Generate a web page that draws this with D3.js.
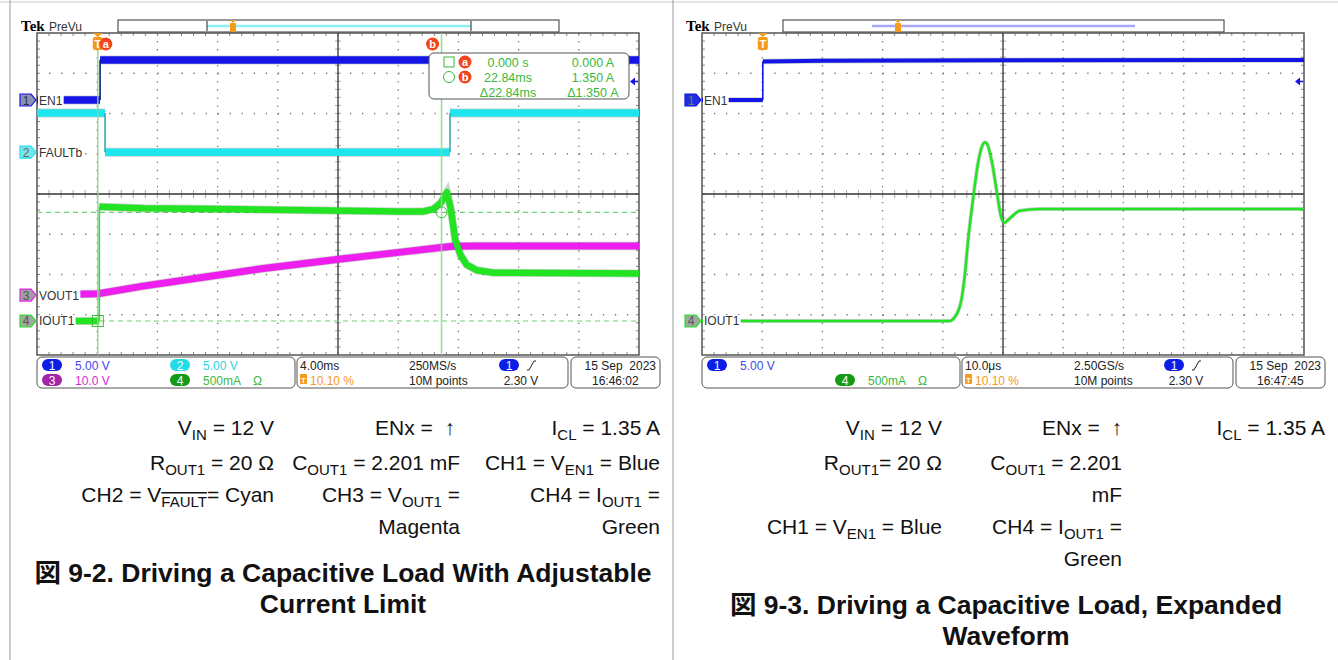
<!DOCTYPE html>
<html>
<head>
<meta charset="utf-8">
<script src="https://cdn.jsdelivr.net/npm/d3@7"></script>
<style>
  body { margin: 0; background: #fff; }
  svg text { font-family: "Liberation Sans", Arial, "Noto Sans CJK JP", sans-serif; }
  .ui { font-size: 12px; }
  .cap { font-size: 21px; fill: #111; }
  .title { font-size: 26.5px; font-weight: bold; fill: #111; }
</style>
</head>
<body>
<svg id="chart" width="1338" height="660"></svg>
<script>
// ---- channel setup (units per division, marker offset in divisions) ----
const CH_PER_DIV = [5, 5, 10, 0.5];
const CH_OFFSET  = [2.335, 1.04, -2.51, -3.155];
const CH_COLOR   = ["#1414e6", "#1ee4ee", "#ee1eee", "#22e422"];
const CH_LABEL   = ["EN1", "FAULTb", "VOUT1", "IOUT1"];

// ---- left capture: 4 ms/div, trigger at 10.1 % (times in ms) ----
const EN1_LEFT   = [[-4.04, 0], [0.15, 0], [0.15, 4.97], [35.96, 4.97]];
const FAULT_LEFT = [[-4.04, 4.85], [0.48, 4.85], [0.48, 0], [23.4, 0], [23.4, 4.85], [35.96, 4.85]];
const VOUT_LEFT  = [[-4.04, 0], [0, 0.3], [3, 2.2], [6.8, 4.3], [11, 6.6], [16, 8.9], [20, 10.6],
                    [22.8, 11.8], [23.6, 12.1], [25, 12.2], [35.96, 12.2]];
const IOUT_LEFT  = [[-4.04, 0], [0.1, 0], [0.1, 1.42], [3, 1.40], [8, 1.39], [14, 1.375], [20, 1.36],
                    [21.6, 1.36], [22.3, 1.39], [22.8, 1.47], [23.2, 1.60], [23.45, 1.40], [23.75, 1.01],
                    [24.1, 0.82], [24.5, 0.70], [25.2, 0.63], [26.3, 0.60], [35.96, 0.59]];
const CURSOR_T = [0, 22.84];
const CURSOR_I = [0, 1.35];

// ---- right capture: 10 us/div, trigger at 10.1 % (times in us) ----
const EN1_RIGHT  = [[-10.1, 0], [0, 0], [0, 4.8], [10, 4.88], [40, 4.93], [89.9, 4.97]];
const IOUT_RIGHT = [[-10.1, 0], [31.1, 0], [31.4, 0.01], [32.8, 0.2], [33.6, 0.6], [34.1, 1.0], [34.9, 1.5],
                    [35.75, 1.96], [36.6, 2.2], [36.9, 2.22], [37.25, 2.2], [38.1, 1.96], [38.9, 1.59],
                    [39.6, 1.29], [40.1, 1.22], [41.1, 1.28], [42.7, 1.37], [46, 1.39], [89.9, 1.39]];

// ---- status bar / readout text ----
const READOUT_ROWS = [["0.000 s", "0.000 A"], ["22.84ms", "1.350 A"], ["\u039422.84ms", "\u03941.350 A"]];
const STATUS_LEFT  = {time: "4.00ms", rate: "250MS/s", date: "15 Sep  2023", clock: "16:46:02",
                      chans: [[1, "5.00 V"], [2, "5.00 V"], [3, "10.0 V"], [4, "500mA"]]};
const STATUS_RIGHT = {time: "10.0\u03bcs", rate: "2.50GS/s", date: "15 Sep  2023", clock: "16:47:45",
                      chans: [[1, "5.00 V"], [4, "500mA"]]};

const PILL_COLOR = ["#0c1ee6", "#22dce6", "#a424a8", "#159a15"];
const TEXT_COLOR = ["#4646f0", "#2ad4de", "#d42cd4", "#3cb83c"];
const ORANGE = "#f49a1c";

const svg = d3.select("#chart");

// frame of the document table
svg.append("line").attr("x1", 0).attr("x2", 1338).attr("y1", 2).attr("y2", 2).attr("stroke", "#ccc");
[10, 673].forEach(x => svg.append("line").attr("x1", x).attr("x2", x).attr("y1", 0).attr("y2", 660)
  .attr("stroke", "#999").attr("stroke-width", 1));

/*
  Splits a trace at its vertical edges: flat runs are drawn thick, edges thin.
*/
const splitRuns = (data) => {
  const runs = [], edges = [];
  let cur = [data[0]];
  for (let i = 1; i < data.length; i++) {
    if (data[i][0] === data[i - 1][0]) {
      runs.push(cur);
      edges.push([data[i - 1], data[i]]);
      cur = [data[i]];
    } else {
      cur.push(data[i]);
    }
  }
  runs.push(cur);
  return {runs, edges};
};

/*
  Draws one oscilloscope screen shifted by ox pixels.
*/
const drawScope = (cfg) => {
  const ox = cfg.ox;
  const gx0 = 37 + ox, gx1 = 639 + ox, gy0 = 33, gy1 = 355;
  const g = svg.append("g");
  const xDiv = d3.scaleLinear().domain([0, 10]).range([gx0, gx1]);
  const yDiv = d3.scaleLinear().domain([-4, 4]).range([gy1, gy0]);
  const x = d3.scaleLinear().domain([cfg.t0, cfg.t0 + 10 * cfg.perDiv]).range([gx0, gx1]);
  const chY = c => d3.scaleLinear()
    .domain([(-4 - CH_OFFSET[c]) * CH_PER_DIV[c], (4 - CH_OFFSET[c]) * CH_PER_DIV[c]])
    .range([gy1, gy0]);

  // top bar
  g.append("text").attr("x", 21 + ox).attr("y", 31).text("Tek")
   .style("font-family", "'Liberation Serif', serif").style("font-weight", "bold").style("font-size", "15px");
  g.append("text").attr("x", 49 + ox).attr("y", 31).attr("class", "ui").attr("fill", "#333").text("PreVu");
  g.append("rect").attr("x", 118 + ox).attr("y", 20).attr("width", 441).attr("height", 12)
   .attr("fill", "#fff").attr("stroke", "#333");
  g.append("line").attr("x1", cfg.rec[0] + ox).attr("x2", cfg.rec[1] + ox).attr("y1", 26).attr("y2", 26)
   .attr("stroke", cfg.recColor).attr("stroke-width", 2.5);
  if (cfg.brackets) {
    [cfg.rec[0], cfg.rec[1]].forEach(bx => g.append("line").attr("x1", bx + ox).attr("x2", bx + ox)
      .attr("y1", 21).attr("y2", 31).attr("stroke", "#222").attr("stroke-width", 1));
  }
  const tm = cfg.recT + ox;
  g.append("path").attr("d", `M${tm - 3},20 L${tm + 3},20 L${tm},23 Z`).attr("fill", ORANGE);
  g.append("rect").attr("x", tm - 3).attr("y", 23).attr("width", 6).attr("height", 9).attr("rx", 1).attr("fill", ORANGE);

  // graticule
  const grid = g.append("g");
  for (let i = 1; i < 10; i++) {
    if (i === 5) continue;
    grid.append("line").attr("x1", xDiv(i)).attr("x2", xDiv(i)).attr("y1", gy0).attr("y2", gy1)
        .attr("stroke", "#777").attr("stroke-width", 1.3).attr("stroke-dasharray", "1.3,6.75");
  }
  for (let j = -3; j <= 3; j++) {
    if (j === 0) continue;
    grid.append("line").attr("x1", gx0).attr("x2", gx1).attr("y1", yDiv(j)).attr("y2", yDiv(j))
        .attr("stroke", "#777").attr("stroke-width", 1.3).attr("stroke-dasharray", "1.3,10.74");
  }
  for (let k = 1; k < 50; k++) {
    const xx = xDiv(k / 5);
    grid.append("line").attr("x1", xx).attr("x2", xx).attr("y1", yDiv(0) - 4).attr("y2", yDiv(0) + 4).attr("stroke", "#aaa");
    grid.append("line").attr("x1", xx).attr("x2", xx).attr("y1", gy0).attr("y2", gy0 + 3).attr("stroke", "#888");
    grid.append("line").attr("x1", xx).attr("x2", xx).attr("y1", gy1 - 3).attr("y2", gy1).attr("stroke", "#888");
  }
  for (let k = 1; k < 40; k++) {
    const yy = yDiv(-4 + k / 5);
    grid.append("line").attr("x1", xDiv(5) - 3).attr("x2", xDiv(5) + 3).attr("y1", yy).attr("y2", yy).attr("stroke", "#aaa");
    grid.append("line").attr("x1", gx0).attr("x2", gx0 + 3).attr("y1", yy).attr("y2", yy).attr("stroke", "#888");
    grid.append("line").attr("x1", gx1 - 3).attr("x2", gx1).attr("y1", yy).attr("y2", yy).attr("stroke", "#888");
  }
  grid.append("line").attr("x1", gx0).attr("x2", gx1).attr("y1", yDiv(0)).attr("y2", yDiv(0)).attr("stroke", "#333").attr("stroke-width", 1.3);
  grid.append("line").attr("x1", xDiv(5)).attr("x2", xDiv(5)).attr("y1", gy0).attr("y2", gy1).attr("stroke", "#333").attr("stroke-width", 1.3);
  grid.append("rect").attr("x", gx0).attr("y", gy0).attr("width", gx1 - gx0).attr("height", gy1 - gy0)
      .attr("fill", "none").attr("stroke", "#555").attr("stroke-width", 1.5);

  const clipId = "clip" + ox;
  g.append("clipPath").attr("id", clipId).append("rect")
   .attr("x", gx0).attr("y", gy0).attr("width", gx1 - gx0).attr("height", gy1 - gy0);
  const plot = g.append("g").attr("clip-path", `url(#${clipId})`);

  // cursors (behind traces)
  if (cfg.cursors) {
    CURSOR_I.forEach(v => plot.append("line").attr("x1", gx0).attr("x2", gx1).attr("y1", chY(3)(v)).attr("y2", chY(3)(v))
      .attr("stroke", "#6ed06e").attr("stroke-width", 1.2).attr("stroke-dasharray", "5,4"));
  }

  // traces
  cfg.traces.forEach(tr => {
    const y = chY(tr.ch);
    const line = d3.line().x(d => x(d[0])).y(d => y(d[1])).curve(tr.curve || d3.curveLinear);
    const parts = splitRuns(tr.data);
    parts.runs.forEach(run => {
      plot.append("path").datum(run).attr("d", line).attr("fill", "none")
          .attr("stroke", "#1a3a1a").attr("stroke-opacity", 0.22).attr("stroke-width", tr.w + 1.5);
      plot.append("path").datum(run).attr("d", line).attr("fill", "none")
          .attr("stroke", CH_COLOR[tr.ch]).attr("stroke-width", tr.w).attr("stroke-linejoin", "round");
    });
    parts.edges.forEach(e => plot.append("path").datum(e).attr("d", line).attr("fill", "none")
          .attr("stroke", tr.edge || CH_COLOR[tr.ch]).attr("stroke-width", 1.6));
  });

  if (cfg.cursors) {
    CURSOR_T.forEach(t => plot.append("line").attr("x1", x(t)).attr("x2", x(t)).attr("y1", gy0).attr("y2", gy1)
      .attr("stroke", "#8cd88c").attr("stroke-width", 1.6).attr("stroke-opacity", 0.85));
    plot.append("rect").attr("x", x(CURSOR_T[0]) - 5.5).attr("y", chY(3)(CURSOR_I[0]) - 5.5)
        .attr("width", 11).attr("height", 11).attr("fill", "none").attr("stroke", "#3cb83c");
    plot.append("circle").attr("cx", x(CURSOR_T[1])).attr("cy", chY(3)(CURSOR_I[1])).attr("r", 5.5)
        .attr("fill", "none").attr("stroke", "#3cb83c");
  }

  // channel labels on the left edge
  cfg.markers.forEach(m => {
    const yy = yDiv(CH_OFFSET[m.ch]);
    const txt = g.append("text").attr("x", gx0 + 2).attr("y", yy + 4.5).attr("class", "ui")
                 .attr("fill", "#333").text(CH_LABEL[m.ch]);
    const bb = txt.node().getBBox();
    g.insert("rect", () => txt.node()).attr("x", gx0 + 1).attr("y", yy - 6).attr("width", bb.width + 2)
     .attr("height", 12).attr("fill", "#fff");
    g.append("path").attr("d", `M${20 + ox},${yy - 6} H${31 + ox} L${36 + ox},${yy} L${31 + ox},${yy + 6} H${20 + ox} Z`)
     .attr("fill", m.fill).attr("stroke", CH_COLOR[m.ch]).attr("stroke-width", 1.2);
    g.append("text").attr("x", 26 + ox).attr("y", yy + 4.5).attr("text-anchor", "middle").attr("class", "ui")
     .attr("fill", m.num).text(m.ch + 1);
  });

  // trigger marker on top of graticule
  const tx = x(0);
  g.append("path").attr("d", `M${tx - 5},33 L${tx + 5},33 L${tx},37 Z`).attr("fill", ORANGE);
  g.append("rect").attr("x", tx - 5).attr("y", 37).attr("width", 10).attr("height", 13).attr("rx", 2).attr("fill", ORANGE);
  g.append("text").attr("x", tx).attr("y", 48).attr("text-anchor", "middle").attr("fill", "#fff")
   .style("font-size", "11px").style("font-weight", "bold").text("T");

  // trigger level arrow on the right edge
  const ly = chY(0)(2.3);
  g.append("path").attr("d", `M${gx1 - 9},${ly} L${gx1 - 4},${ly - 4} L${gx1 - 4},${ly + 4} Z`).attr("fill", CH_COLOR[0]);
  g.append("line").attr("x1", gx1 - 5).attr("x2", gx1 - 1).attr("y1", ly).attr("y2", ly).attr("stroke", CH_COLOR[0]).attr("stroke-width", 1.5);

  // cursor badges and readout
  if (cfg.cursors) {
    const badge = (bx, by, t) => {
      g.append("circle").attr("cx", bx).attr("cy", by).attr("r", 6.5).attr("fill", "#f2461a");
      g.append("text").attr("x", bx).attr("y", by + 4).attr("text-anchor", "middle").attr("fill", "#fff")
       .style("font-size", "11px").style("font-weight", "bold").text(t);
    };
    badge(x(CURSOR_T[0]) + 8, 44, "a");
    badge(x(CURSOR_T[1]) - 9, 44, "b");
    g.append("rect").attr("x", 429 + ox).attr("y", 53).attr("width", 200).attr("height", 46).attr("rx", 5)
     .attr("fill", "#fff").attr("stroke", "#555");
    g.append("rect").attr("x", 444 + ox).attr("y", 57).attr("width", 10).attr("height", 10).attr("fill", "none").attr("stroke", "#3cb83c");
    g.append("circle").attr("cx", 449 + ox).attr("cy", 77).attr("r", 5.5).attr("fill", "none").attr("stroke", "#3cb83c");
    badge(465 + ox, 62, "a");
    badge(465 + ox, 77, "b");
    READOUT_ROWS.forEach((row, i) => {
      row.forEach((s, j) => g.append("text").attr("x", [508, 593][j] + ox).attr("y", 66.5 + 15 * i)
        .attr("text-anchor", "middle").attr("fill", "#3cb83c").style("font-size", "12.5px").text(s));
    });
  }

  // status bar
  const st = cfg.status;
  [[37, 258], [297, 271], [571, 89]].forEach(b => g.append("rect").attr("x", b[0] + ox).attr("y", 357)
    .attr("width", b[1]).attr("height", 31).attr("rx", 5).attr("fill", "#fff").attr("stroke", "#555"));
  const pill = (cx, cy, n) => {
    g.append("rect").attr("x", cx - 10).attr("y", cy - 6).attr("width", 20).attr("height", 12).attr("rx", 6)
     .attr("fill", PILL_COLOR[n - 1]);
    g.append("text").attr("x", cx).attr("y", cy + 4.5).attr("text-anchor", "middle").attr("fill", "#fff")
     .attr("class", "ui").text(n);
  };
  st.chans.forEach(c => {
    const n = c[0];
    const col = (n === 1 || n === 3) ? 52 : 180;
    const row = (n === 1 || n === 2) ? 365 : 380;
    pill(col + ox, row, n);
    g.append("text").attr("x", col + 23 + ox).attr("y", row + 4.5).attr("class", "ui").attr("fill", TEXT_COLOR[n - 1]).text(c[1]);
    if (n === 4) g.append("text").attr("x", 253 + ox).attr("y", row + 4.5).attr("class", "ui").attr("fill", TEXT_COLOR[3]).text("\u03a9");
  });
  g.append("text").attr("x", 300 + ox).attr("y", 369.5).attr("class", "ui").attr("fill", "#222").text(st.time);
  g.append("rect").attr("x", 300 + ox).attr("y", 374).attr("width", 7).attr("height", 10).attr("rx", 1).attr("fill", ORANGE);
  g.append("text").attr("x", 303.5 + ox).attr("y", 382.5).attr("text-anchor", "middle").attr("fill", "#fff")
   .style("font-size", "8px").style("font-weight", "bold").text("T");
  g.append("text").attr("x", 310 + ox).attr("y", 384.5).attr("class", "ui").attr("fill", ORANGE).text("10.10 %");
  g.append("text").attr("x", 409 + ox).attr("y", 369.5).attr("class", "ui").attr("fill", "#222").text(st.rate);
  g.append("text").attr("x", 409 + ox).attr("y", 384.5).attr("class", "ui").attr("fill", "#222").text("10M points");
  pill(509 + ox, 365, 1);
  g.append("path").attr("d", `M${527 + ox},370 H${529 + ox} L${534 + ox},361 H${536 + ox}`)
   .attr("fill", "none").attr("stroke", "#222").attr("stroke-width", 1);
  g.append("text").attr("x", 521 + ox).attr("y", 384.5).attr("text-anchor", "middle").attr("class", "ui").attr("fill", "#222").text("2.30 V");
  g.append("text").attr("x", 656 + ox).attr("y", 369.5).attr("text-anchor", "end").attr("class", "ui").attr("fill", "#222")
   .style("white-space", "pre").text(st.date);
  g.append("text").attr("x", 592 + ox).attr("y", 384.5).attr("class", "ui").attr("fill", "#222").text(st.clock);
};

drawScope({
  ox: 0, t0: -4.04, perDiv: 4, rec: [207, 471], recColor: "#8ef0f4", brackets: true, recT: 233, cursors: true,
  status: STATUS_LEFT,
  traces: [
    {ch: 2, data: VOUT_LEFT, w: 7},
    {ch: 1, data: FAULT_LEFT, w: 7.5, edge: "#3aa8b0"},
    {ch: 0, data: EN1_LEFT, w: 7.5, edge: "#10208a"},
    {ch: 3, data: IOUT_LEFT, w: 6.5}
  ],
  markers: [
    {ch: 0, fill: "#8a90b4", num: "#333"},
    {ch: 1, fill: "#7ae4ea", num: "#666"},
    {ch: 2, fill: "#a0a0a0", num: "#555"},
    {ch: 3, fill: "#a0a8a0", num: "#555"}
  ]
});

drawScope({
  ox: 665, t0: -10.1, perDiv: 10, rec: [872, 1135].map(v => v - 665), recColor: "#a8a8f8", brackets: false, recT: 233,
  cursors: false, status: STATUS_RIGHT,
  traces: [
    {ch: 0, data: EN1_RIGHT, w: 4},
    {ch: 3, data: IOUT_RIGHT, w: 2.5, curve: d3.curveMonotoneX}
  ],
  markers: [
    {ch: 0, fill: "#1e2ee0", num: "#777"},
    {ch: 3, fill: "#a0a8a0", num: "#555"}
  ]
});

// ---- captions ----
const CAPTIONS = [
  [274, 435, [["V"], ["IN", 1], [" = 12 V"]]],
  [455, 435, [["ENx =  \u2191"]]],
  [660, 435, [["I"], ["CL", 1], [" = 1.35 A"]]],
  [274, 470, [["R"], ["OUT1", 1], [" = 20 \u03a9"]]],
  [460, 470, [["C"], ["OUT1", 1], [" = 2.201 mF"]]],
  [660, 470, [["CH1 = V"], ["EN1", 1], [" = Blue"]]],
  [274, 502, [["CH2 = V"], ["FAULT", 2], ["= Cyan"]]],
  [460, 502, [["CH3 = V"], ["OUT1", 1], [" ="]]],
  [660, 502, [["CH4 = I"], ["OUT1", 1], [" ="]]],
  [460, 534, [["Magenta"]]],
  [660, 534, [["Green"]]],
  [942, 435, [["V"], ["IN", 1], [" = 12 V"]]],
  [1122, 435, [["ENx =  \u2191"]]],
  [1325, 435, [["I"], ["CL", 1], [" = 1.35 A"]]],
  [942, 470, [["R"], ["OUT1", 1], ["= 20 \u03a9"]]],
  [1122, 470, [["C"], ["OUT1", 1], [" = 2.201"]]],
  [1122, 502, [["mF"]]],
  [942, 534, [["CH1 = V"], ["EN1", 1], [" = Blue"]]],
  [1122, 534, [["CH4 = I"], ["OUT1", 1], [" ="]]],
  [1122, 566, [["Green"]]]
];
const TITLES = [
  [343, 582, "\u56f3 9-2. Driving a Capacitive Load With Adjustable"],
  [343, 613, "Current Limit"],
  [1006, 614, "\u56f3 9-3. Driving a Capacitive Load, Expanded"],
  [1006, 645, "Waveform"]
];

CAPTIONS.forEach(c => {
  const t = svg.append("text").attr("x", c[0]).attr("y", c[1]).attr("text-anchor", "end").attr("class", "cap")
               .style("white-space", "pre");
  let low = false;
  c[2].forEach(p => {
    const sp = t.append("tspan").text(p[0]);
    if (p[1]) {
      sp.attr("dy", low ? 0 : 5).style("font-size", "15px");
      if (p[1] === 2) sp.style("text-decoration", "overline");
      low = true;
    } else {
      if (low) sp.attr("dy", -5);
      low = false;
    }
  });
});
TITLES.forEach(tt => svg.append("text").attr("x", tt[0]).attr("y", tt[1]).attr("text-anchor", "middle")
  .attr("class", "title").text(tt[2]));
</script>
</body>
</html>
